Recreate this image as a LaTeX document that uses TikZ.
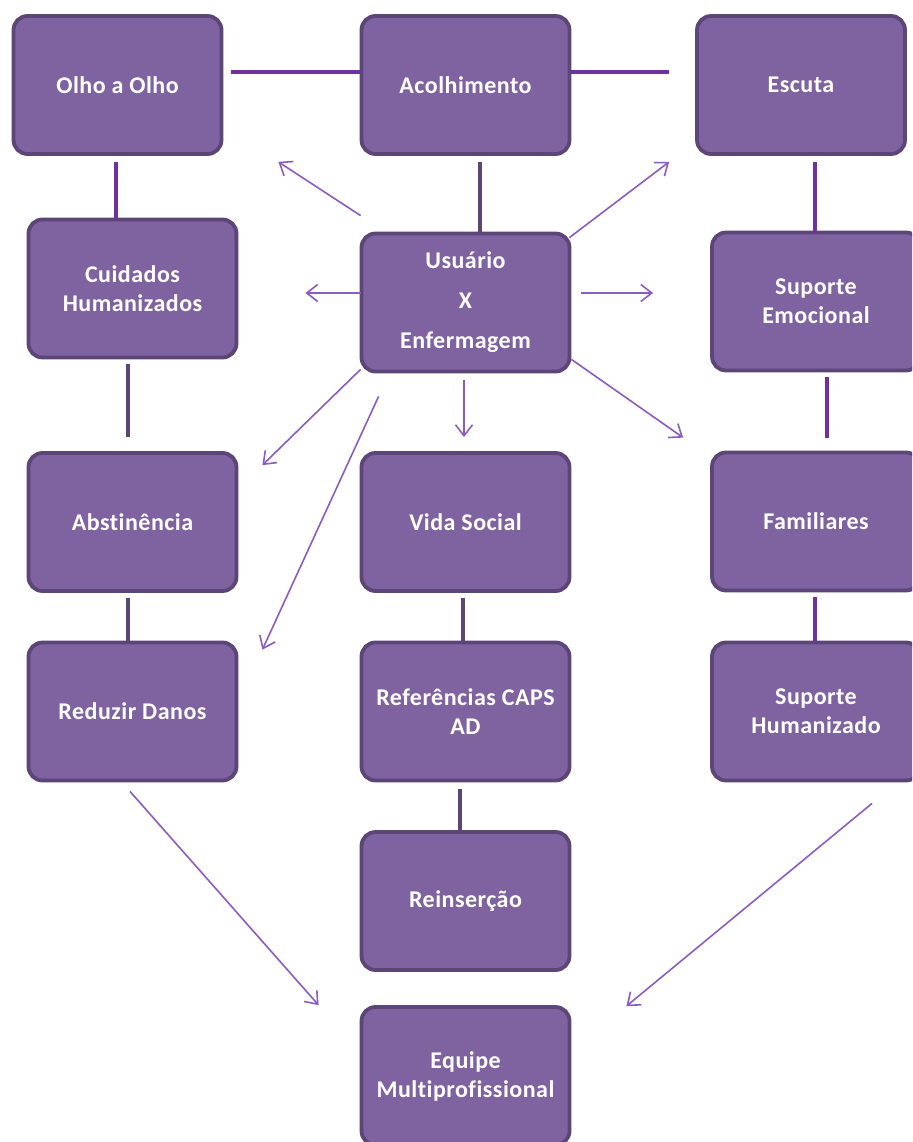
\documentclass[tikz,border=0pt]{standalone}
\usepackage{fontspec}
\setmainfont{Carlito}[RawFeature=-liga, LetterSpace=2]
\usetikzlibrary{arrows.meta,calc}
\definecolor{boxfill}{HTML}{7F63A1}
\definecolor{boxline}{HTML}{5C4677}
\definecolor{brightline}{HTML}{7030A0}
\definecolor{arrowcol}{HTML}{8B5BC2}
\begin{document}
\begin{tikzpicture}[x=1pt,y=-1pt,
  box/.style={draw=boxline, fill=boxfill, line width=3.8pt, rounded corners=14pt,
    minimum width=208pt, minimum height=138pt, inner sep=0pt, text=white,
    font=\fontsize{24}{29}\selectfont\bfseries, align=center},
  link/.style={draw=brightline, line width=4pt},
  darklink/.style={draw=boxline, line width=4pt},
  arr/.style={draw=arrowcol, line width=1.6pt, -{Straight Barb[length=11pt,width=17pt]}}]
\useasboundingbox (0,0) rectangle (912,1142);
\clip (0,0) rectangle (912,1142);

% nodes
\node[box] (olho)   at (117.5,85)   {Olho a Olho};
\node[box] (acol)   at (465.5,85)   {Acolhimento};
\node[box] (escuta) at (801,85)     {Escuta};
\node[box] (cuid)   at (132.5,288.5) {Cuidados\\Humanizados};
\node[box, font=\fontsize{24}{40}\selectfont\bfseries] (usu) at (465.5,302.5) {Usuário\\X\\Enfermagem};
\node[box] (supem)  at (816,301.5)  {Suporte\\Emocional};
\node[box] (abst)   at (132.5,522)  {Abstinência};
\node[box] (vida)   at (465.5,522)  {Vida Social};
\node[box] (fam)    at (816,521.5)  {Familiares};
\node[box] (red)    at (132.5,711.5) {Reduzir Danos};
\node[box] (ref)    at (465.5,711.5) {Referências CAPS\\AD};
\node[box] (suph)   at (816,711.5)  {Suporte\\Humanizado};
\node[box] (rein)   at (465.5,901)  {Reinserção};
\node[box] (equipe) at (465.5,1076) {Equipe\\Multiprofissional};

% bright thick links
\draw[link] ($(olho.east)+(8,-13)$) -- ($(acol.west)+(1,-13)$);
\draw[link] ($(acol.east)+(0,-13)$) -- ($(escuta.west)+(-26,-13)$);
\draw[link] ($(olho.south)+(-1.5,6)$) -- ($(cuid.north)+(-16.5,1)$);
\draw[link] ($(escuta.south)+(14,6)$) -- ($(supem.north)+(-1,2)$);
\draw[link] ($(supem.south)+(11,5)$) -- ($(fam.north)+(11,-13)$);
\draw[link] ($(fam.south)+(-1,5)$) -- ($(suph.north)+(-1,0)$);

% dark thick links
\draw[darklink] ($(acol.south)+(14.5,6)$) -- ($(usu.north)+(14.5,0)$);
\draw[darklink] ($(cuid.south)+(-4.5,5)$) -- ($(abst.north)+(-4.5,-14)$);
\draw[darklink] ($(abst.south)+(-4.5,5)$) -- ($(red.north)+(-4.5,0)$);
\draw[darklink] ($(vida.south)+(-2.5,5)$) -- ($(ref.north)+(-2.5,0)$);
\draw[darklink] ($(ref.south)+(-5.5,7)$) -- ($(rein.north)+(-5.5,0)$);

% thin arrows
\draw[arr] ($(usu.north west)+(1,-16)$) -- ($(olho.south east)+(55,6)$);
\draw[arr] ($(usu.north east)+(-2,6)$) -- ($(escuta.south west)+(-26,6)$);
\draw[arr] ($(usu.west)+(1,-9.5)$) -- ($(cuid.east)+(67,4.5)$);
\draw[arr] ($(usu.east)+(10,-9.5)$) -- ($(supem.west)+(-57,-8.5)$);
\draw[arr] ($(usu.south)+(-1.5,7)$) -- ($(vida.north)+(-1.5,-14)$);
\draw[arr] ($(usu.south east)+(0,-14)$) -- ($(fam.north west)+(-27,-13)$);
\draw[arr] ($(usu.south west)+(1,-4)$) -- ($(abst.north east)+(24,14)$);
\draw[arr] ($(usu.south west)+(19,23)$) -- ($(red.north east)+(24,9)$);
\draw[arr] ($(red.south)+(-2.5,9)$) -- ($(equipe.north west)+(-41,0)$);
\draw[arr] ($(suph.south)+(56,21)$) -- ($(equipe.north east)+(55,1)$);
\end{tikzpicture}
\end{document}
